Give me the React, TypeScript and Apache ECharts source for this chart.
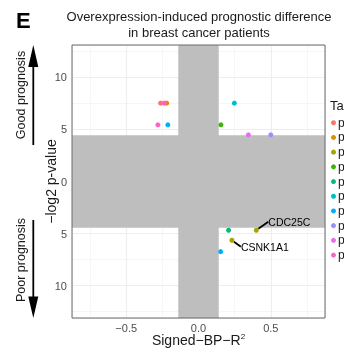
import React, { useEffect, useRef } from "react";
import * as echarts from "echarts";

// ---- data ----
const groupNames = ["p1", "p2", "p3", "p4", "p5", "p6", "p7", "p8", "p9", "p10"];
const groupColors = ["#F8766D", "#D89000", "#A3A500", "#39B600", "#00BF7D", "#00BFC4", "#00B0F6", "#9590FF", "#E76BF3", "#FF62BC"];

const pointGroup = [0, 1, 2, 2, 3, 4, 5, 6, 6, 7, 8, 9, 9];
const pointX = [-0.262, -0.22, 0.4, 0.231, 0.155, 0.208, 0.248, -0.212, 0.153, 0.5, 0.345, -0.281, -0.237];
const pointY = [7.52, 7.52, -4.68, -5.64, 5.44, -4.68, 7.52, 5.44, -6.73, 4.48, 4.48, 5.44, 7.52];
const pointLabel = ["", "", "CDC25C", "CSNK1A1", "", "", "", "", "", "", "", "", ""];

const xRange = [-0.875, 0.875];
const yRange = [-13.1, 13.1];
const xMajorStep = 0.5;
const xMinorStep = 0.25;
const yMajorStep = 5;
const yMinorStep = 2.5;

const effectCut = 0.14;
const pvalueCut = 4.45;

const titleLines = ["Overexpression-induced prognostic difference", "in breast cancer patients"];
const xTitle = "Signed−BP−R";
const yTitle = "−log2 p-value";
const legendTitle = "Target";

// ---- layout (not data) ----
const labelNudge: Record<string, [number, number]> = {
  CDC25C: [4.5, -8.5],
  CSNK1A1: [1.5, 6.4],
};

const FONT = "'Liberation Sans', Arial, Helvetica, sans-serif";

const isMult = (v: number, s: number) => Math.abs(Math.round(v / s) * s - v) < 1e-6;

export default function App() {
  const ref = useRef<HTMLDivElement>(null);

  useEffect(() => {
    if (!ref.current) return;
    const chart = echarts.init(ref.current, undefined, { renderer: "svg" });

    const scatterSeries = groupNames.map((name, gi) => ({
      type: "scatter",
      name,
      xAxisIndex: 0,
      yAxisIndex: 0,
      z: 3,
      symbolSize: 5,
      itemStyle: { color: groupColors[gi], opacity: 1 },
      labelLayout: (params: any) => {
        const n = labelNudge[params.text];
        return n ? { dx: n[0], dy: n[1] } : {};
      },
      data: pointGroup
        .map((g, i) => ({ g, i }))
        .filter((d) => d.g === gi)
        .map(({ i }) => {
          const lbl = pointLabel[i];
          const item: any = { value: [pointX[i], pointY[i]] };
          if (lbl) {
            item.label = {
              show: true,
              formatter: lbl,
              position: "right",
              color: "#000",
              fontSize: 10.5,
              fontFamily: FONT,
            };
            item.labelLine = { show: true, lineStyle: { color: "#000", width: 1.8 } };
          }
          return item;
        }),
    }));

    const option: any = {
      animation: false,
      textStyle: { fontFamily: FONT },
      grid: {
        left: 72,
        right: 19,
        top: 45,
        bottom: 32,
        containLabel: false,
        outerBoundsMode: "none",
        show: true,
        z: 5,
        borderColor: "#6b6b6b",
        borderWidth: 1,
        backgroundColor: "transparent",
      },
      legend: {
        data: groupNames.map((n) => ({ name: n, icon: "circle" })),
        orient: "vertical",
        left: 331,
        top: 115.4,
        padding: 0,
        itemWidth: 5,
        itemHeight: 5,
        itemGap: 0,
        selectedMode: false,
        textStyle: { fontSize: 12, color: "#1a1a1a", lineHeight: 14.7, fontFamily: FONT, padding: [0, 0, 0, -3] },
      },
      xAxis: [
        {
          type: "value",
          min: xRange[0],
          max: xRange[1],
          minInterval: xMajorStep,
          maxInterval: xMajorStep,
          axisLine: { show: false },
          axisTick: { show: true, length: 3, lineStyle: { color: "#333", width: 1 } },
          axisLabel: {
            fontSize: 11,
            color: "#4d4d4d",
            margin: 4,
            showMinLabel: false,
            showMaxLabel: false,
            formatter: (v: number) =>
              isMult(v, xMajorStep) ? (v < -1e-9 ? "−" : "") + Math.abs(v).toFixed(1) : "",
          },
          splitLine: { show: true, lineStyle: { color: "#EBEBEB", width: 1.1 } },
          name: xTitle + "{sup|2}",
          nameLocation: "middle",
          nameGap: 14,
          nameMoveOverlap: false,
          nameTextStyle: {
            fontSize: 14,
            color: "#1a1a1a",
            fontFamily: FONT,
            rich: { sup: { fontSize: 8, verticalAlign: "top", padding: [0, 0, 8, 0], color: "#1a1a1a" } },
          },
        },
        {
          type: "value",
          position: "bottom",
          min: xRange[0],
          max: xRange[1],
          minInterval: xMinorStep,
          maxInterval: xMinorStep,
          axisLine: { show: false },
          axisTick: { show: false },
          axisLabel: { show: false },
          splitLine: { show: true, lineStyle: { color: "#F0F0F0", width: 0.6 } },
        },
      ],
      yAxis: [
        {
          type: "value",
          min: yRange[0],
          max: yRange[1],
          minInterval: yMajorStep,
          maxInterval: yMajorStep,
          axisLine: { show: false },
          axisTick: { show: true, length: 3, lineStyle: { color: "#333", width: 1 } },
          axisLabel: {
            fontSize: 11,
            color: "#4d4d4d",
            margin: 5,
            showMinLabel: false,
            showMaxLabel: false,
            formatter: (v: number) => (isMult(v, yMajorStep) ? String(Math.abs(Math.round(v))) : ""),
          },
          splitLine: { show: true, lineStyle: { color: "#EBEBEB", width: 1.1 } },
          name: yTitle,
          nameLocation: "middle",
          nameGap: 14,
          nameRotate: 90,
          nameMoveOverlap: false,
          nameTextStyle: { fontSize: 14, color: "#1a1a1a", fontFamily: FONT },
        },
        {
          type: "value",
          position: "left",
          min: yRange[0],
          max: yRange[1],
          minInterval: yMinorStep,
          maxInterval: yMinorStep,
          axisLine: { show: false },
          axisTick: { show: false },
          axisLabel: { show: false },
          splitLine: { show: true, lineStyle: { color: "#F0F0F0", width: 0.6 } },
        },
      ],
      series: [
        {
          type: "scatter",
          name: "__bands",
          xAxisIndex: 0,
          yAxisIndex: 0,
          z: 1,
          data: [],
          markArea: {
            silent: true,
            itemStyle: { color: "#BEBEBE", opacity: 1 },
            data: [
              [{ xAxis: -effectCut }, { xAxis: effectCut }],
              [{ yAxis: -pvalueCut }, { yAxis: pvalueCut }],
            ],
          },
        },
        ...scatterSeries,
      ],
      graphic: [
        {
          type: "text",
          x: 16,
          y: 20.6,
          style: { text: "E", fill: "#000", font: `bold 22px ${FONT}`, textVerticalAlign: "middle" },
        },
        {
          type: "text",
          x: 199,
          y: 16,
          style: { text: titleLines[0], font: `13px ${FONT}`, fill: "#1a1a1a", textAlign: "center", textVerticalAlign: "middle" },
        },
        {
          type: "text",
          x: 199,
          y: 32.5,
          style: { text: titleLines[1], font: `13px ${FONT}`, fill: "#1a1a1a", textAlign: "center", textVerticalAlign: "middle" },
        },
        {
          type: "text",
          x: 20.5,
          y: 95,
          rotation: Math.PI / 2,
          style: { text: "Good prognosis", font: `12.5px ${FONT}`, fill: "#1a1a1a", textAlign: "center", textVerticalAlign: "middle" },
        },
        {
          type: "text",
          x: 20.5,
          y: 260,
          rotation: Math.PI / 2,
          style: { text: "Poor prognosis", font: `12.5px ${FONT}`, fill: "#1a1a1a", textAlign: "center", textVerticalAlign: "middle" },
        },
        { type: "line", shape: { x1: 33.3, y1: 145, x2: 33.3, y2: 62 }, style: { stroke: "#000", lineWidth: 1.8 } },
        { type: "polygon", shape: { points: [[33.3, 45], [28.3, 67], [38.3, 67]] }, style: { fill: "#000" } },
        { type: "line", shape: { x1: 33.3, y1: 220, x2: 33.3, y2: 300 }, style: { stroke: "#000", lineWidth: 1.8 } },
        { type: "polygon", shape: { points: [[33.3, 318], [28.3, 296.5], [38.3, 296.5]] }, style: { fill: "#000" } },
        {
          type: "text",
          x: 330,
          y: 105,
          style: { text: legendTitle, font: `13px ${FONT}`, fill: "#1a1a1a", textVerticalAlign: "middle" },
        },
      ],
    };

    chart.setOption(option);
    return () => chart.dispose();
  }, []);

  return <div ref={ref} style={{ position: "fixed", left: 0, top: 0, width: 344, height: 350 }} />;
}
